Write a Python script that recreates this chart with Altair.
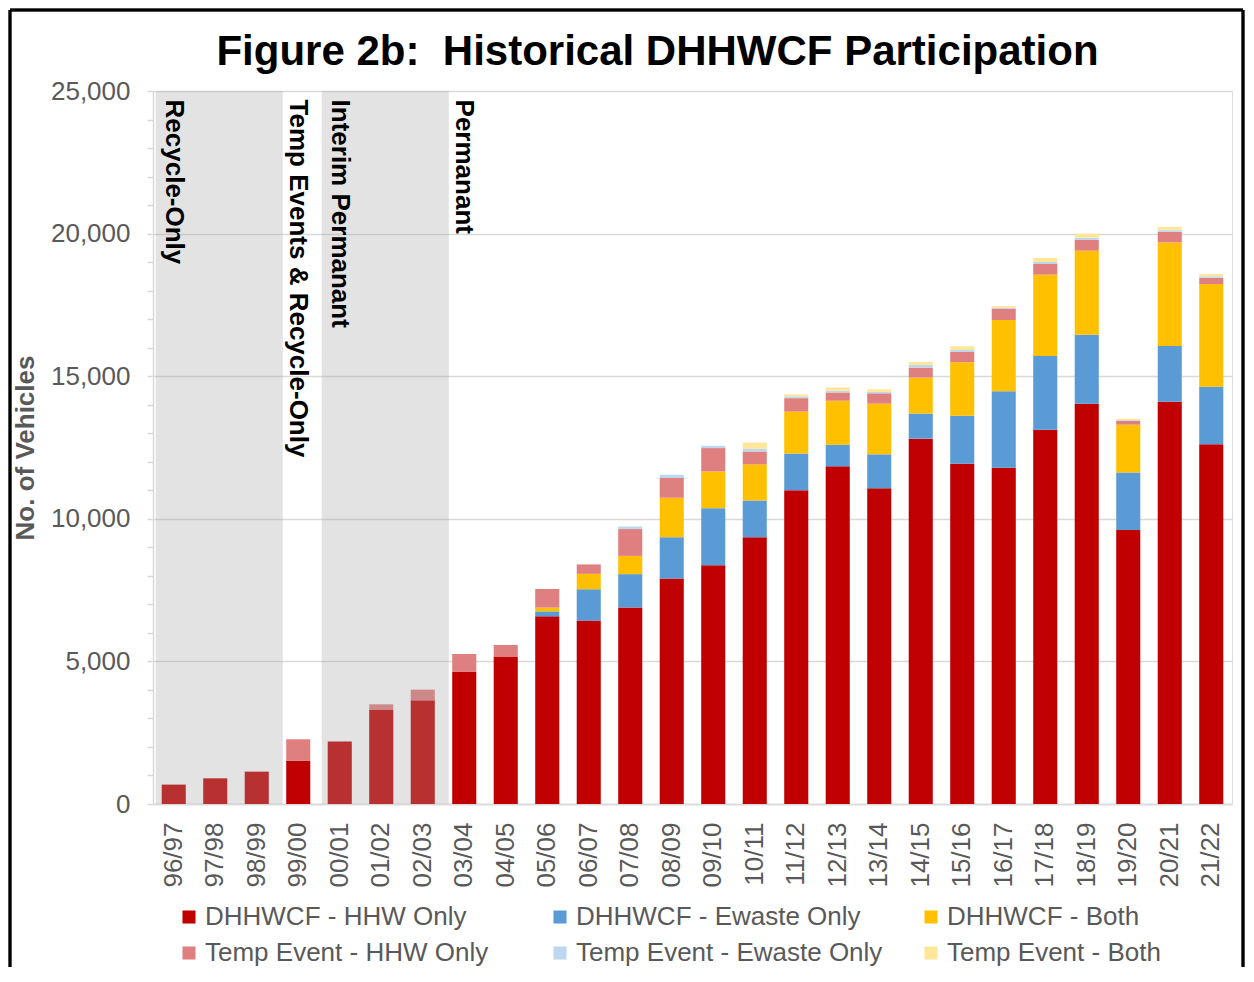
import altair as alt
import pandas as pd

FONT = "Liberation Sans, Arial, sans-serif"

years = ["96/97", "97/98", "98/99", "99/00", "00/01", "01/02", "02/03", "03/04", "04/05",
         "05/06", "06/07", "07/08", "08/09", "09/10", "10/11", "11/12", "12/13", "13/14",
         "14/15", "15/16", "16/17", "17/18", "18/19", "19/20", "20/21", "21/22"]

dh_hhw = [680, 900, 1135, 1510, 2190, 3295, 3635, 4630, 5170, 6580, 6430, 6890, 7910,
          8370, 9350, 11000, 11840, 11070, 12810, 11930, 11790, 13120, 14030, 9610, 14100, 12610]
dh_ewaste = [0, 0, 0, 0, 0, 0, 0, 0, 0, 175, 1100, 1170, 1440, 2000, 1290, 1290, 760,
             1190, 880, 1680, 2680, 2590, 2420, 2010, 1960, 2020]
dh_both = [0, 0, 0, 0, 0, 0, 0, 0, 0, 130, 540, 640, 1390, 1290, 1270, 1470, 1540,
           1780, 1260, 1880, 2500, 2850, 2950, 1680, 3630, 3600]
temp_hhw = [0, 0, 0, 760, 0, 200, 375, 630, 405, 655, 330, 940, 690, 820, 450, 470, 290,
            360, 350, 360, 400, 375, 375, 130, 370, 220]
temp_ewaste = [0, 0, 0, 0, 0, 0, 0, 0, 0, 0, 0, 90, 115, 80, 95, 60, 60, 50, 95, 70, 35,
               70, 80, 30, 60, 50]
temp_both = [0, 0, 0, 0, 0, 0, 0, 0, 0, 0, 0, 0, 0, 0, 220, 70, 115, 90, 105, 130, 60,
             140, 140, 50, 115, 80]

series_names = ["DHHWCF - HHW Only", "DHHWCF - Ewaste Only", "DHHWCF - Both",
                "Temp Event - HHW Only", "Temp Event - Ewaste Only", "Temp Event - Both"]
series_colors = ["#C00000", "#5B9BD5", "#FFC000", "#E07F7F", "#BDD7EE", "#FFE699"]
series_values = [dh_hhw, dh_ewaste, dh_both, temp_hhw, temp_ewaste, temp_both]

region_start = ["96/97", "00/01"]
region_end = ["98/99", "02/03"]

phase_names = ["Recycle-Only", "Temp Events & Recycle-Only", "Interim Permanant", "Permanant"]
phase_years = ["96/97", "99/00", "00/01", "03/04"]

y_ticks = list(range(0, 25001, 1000))

rows = []
for si, (name, vals) in enumerate(zip(series_names, series_values)):
    for yr, v in zip(years, vals):
        rows.append({"year": yr, "series": name, "order": si, "vehicles": v})
df = pd.DataFrame(rows)
regions = pd.DataFrame({"start": region_start, "end": region_end})
phases = pd.DataFrame({"phase": phase_names, "year": phase_years})

W, H = 1079, 713
xscale = alt.Scale(domain=years, paddingInner=0.42, paddingOuter=0.21)
yscale = alt.Scale(domain=[0, 25000], nice=False)

xaxis = alt.Axis(labelAngle=-90, labelFontSize=26, labelFont=FONT,
                 labelColor="#595959", domainColor="#D9D9D9", domainWidth=1.5,
                 ticks=False, tickSize=0, labelPadding=18, title=None)
yaxis = alt.Axis(values=y_ticks,
                 labelExpr="datum.value % 5000 === 0 ? format(datum.value, ',') : ''",
                 grid=True, gridColor="#D9D9D9", gridWidth=1.5,
                 gridOpacity={"condition": {"test": "datum.value % 5000 === 0", "value": 1}, "value": 0},
                 domainColor="#D9D9D9", domainWidth=1.5, tickColor="#D9D9D9",
                 tickSize=6, tickWidth=1.5, labelFont=FONT, labelFontSize=26,
                 labelColor="#595959", labelPadding=17, labelOverlap=False,
                 labelBound=False, labelFlush=False,
                 title="No. of Vehicles", titleFont=FONT, titleFontSize=26,
                 titleFontWeight="bold", titleColor="#595959", titlePadding=12)

bars = alt.Chart(df).mark_bar().encode(
    x=alt.X("year:N", scale=xscale, title=None, axis=xaxis),
    y=alt.Y("vehicles:Q", stack="zero", scale=yscale, axis=yaxis, title="No. of Vehicles"),
    color=alt.Color("series:N", scale=alt.Scale(domain=series_names, range=series_colors),
                    legend=alt.Legend(orient="none", legendX=23, legendY=813,
                                      direction="horizontal", columns=3, title=None,
                                      symbolType="square", symbolSize=170,
                                      symbolStrokeWidth=0, labelFont=FONT,
                                      labelFontSize=26, labelColor="#595959",
                                      gridAlign="all", columnPadding=35, rowPadding=10,
                                      labelOffset=3, padding=0, labelLimit=500)),
    order=alt.Order("order:Q", sort="ascending"),
)

shade = alt.Chart(regions).mark_rect(color="#A1A1A1", opacity=0.3, xOffset=-6, x2Offset=14).encode(
    x=alt.X("start:N", bandPosition=0, scale=xscale, title=None, axis=xaxis),
    x2=alt.X2("end:N", bandPosition=1),
    y=alt.YDatum(25000, scale=yscale, axis=yaxis, title="No. of Vehicles"),
    y2=alt.Y2Datum(0),
)

labels = alt.Chart(phases).mark_text(angle=90, align="left", baseline="middle",
                                     font=FONT, fontSize=26, fontWeight="bold",
                                     color="black", xOffset=0).encode(
    x=alt.X("year:N", scale=xscale, title=None, axis=xaxis),
    y=alt.YDatum(24700, scale=yscale, axis=yaxis, title="No. of Vehicles"),
    text="phase:N",
)

frame_left = alt.Chart(phases).mark_rule(color="black", strokeWidth=2.5).encode(
    x=alt.value(-143), y=alt.value(-81), y2=alt.value(876))
frame_right = alt.Chart(phases).mark_rule(color="black", strokeWidth=2.5).encode(
    x=alt.value(1090), y=alt.value(-81), y2=alt.value(876))
frame_top = alt.Chart(phases).mark_rule(color="black", strokeWidth=2.5).encode(
    x=alt.value(-143), x2=alt.value(1090), y=alt.value(-81))

chart = alt.layer(bars, shade, labels, frame_left, frame_right, frame_top).properties(
    width=W, height=H, padding=0,
    title=alt.TitleParams("Figure 2b:\u00a0 Historical DHHWCF Participation", font=FONT,
                          fontSize=42, fontWeight="bold", color="black", anchor="middle",
                          frame="group", dx=-35, offset=-107, baseline="bottom"),
).configure_view(stroke=None).configure(background="white")

chart.save("out.html", embed_options={"renderer": "svg", "actions": False})
